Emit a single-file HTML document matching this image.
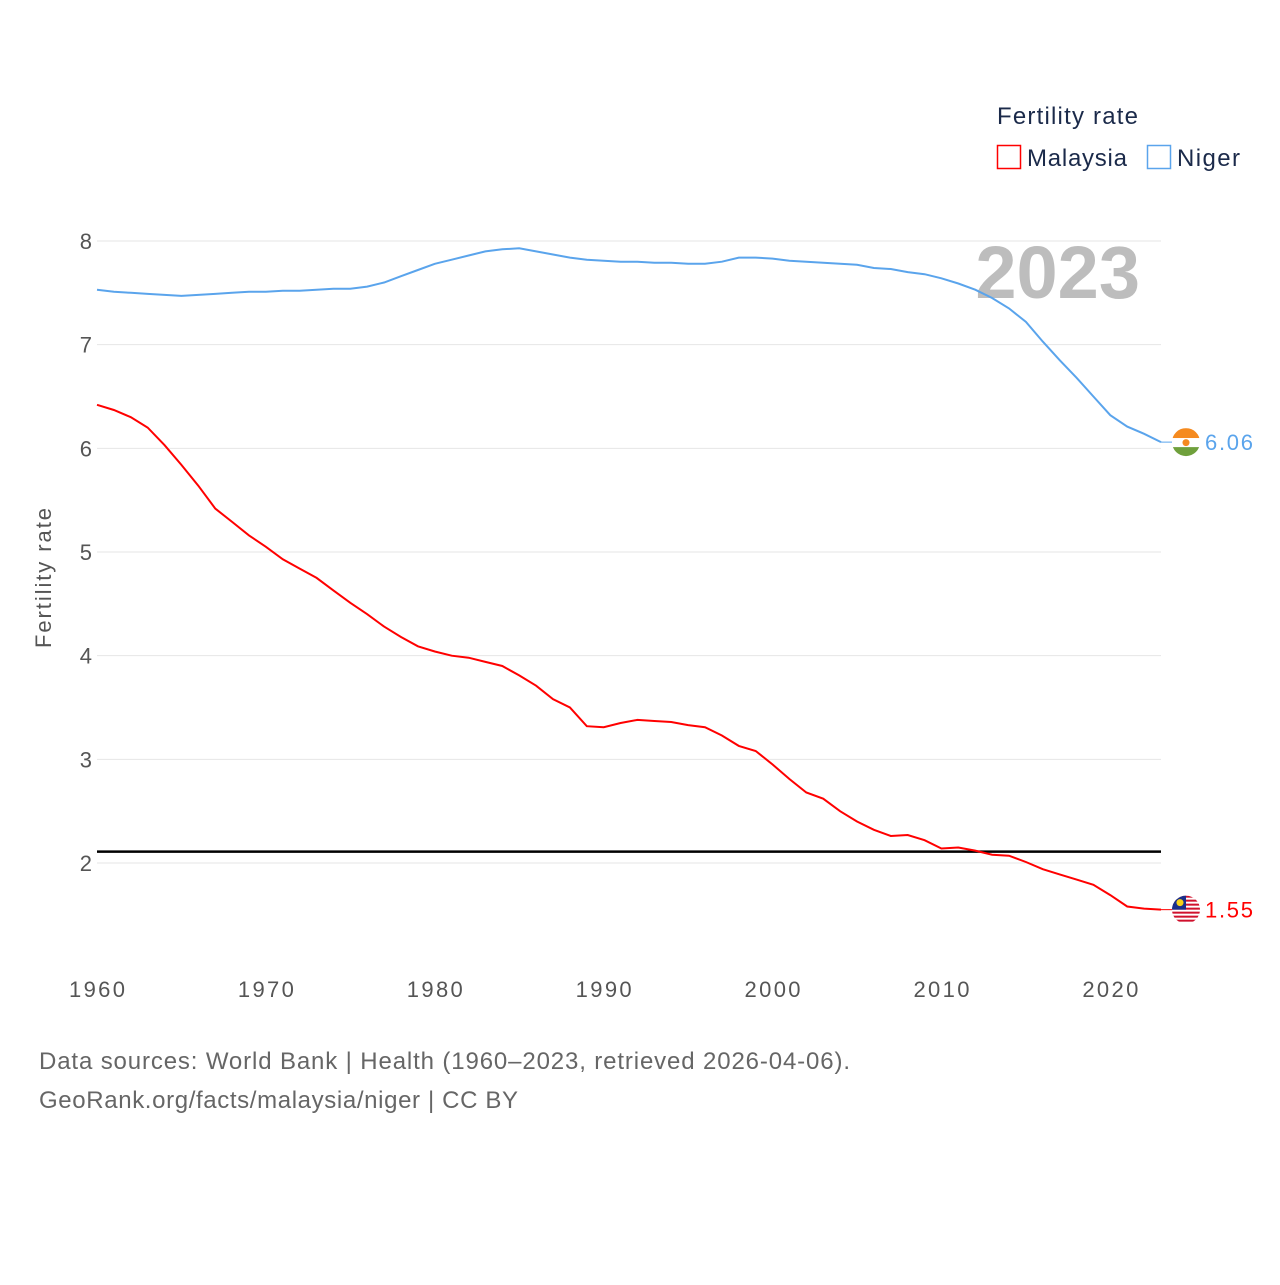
<!DOCTYPE html>
<html><head><meta charset="utf-8"><style>
body{margin:0;background:#fff;font-family:"Liberation Sans",sans-serif}
svg text{font-family:"Liberation Sans",sans-serif}
</style></head><body>
<svg id="chart" width="1280" height="1280">
<defs>
<clipPath id="clipN"><circle id="cN" cx="1186" cy="0" r="14"/></clipPath>
<clipPath id="clipM"><circle id="cM" cx="1186" cy="0" r="14"/></clipPath>
</defs>
<rect width="1280" height="1280" fill="#fff"/>
<g id="grid"></g>
<text x="1140" y="298" text-anchor="end" font-size="74" font-weight="bold" fill="#bdbdbd">2023</text>
<g id="series"></g>
<g id="xaxis"></g>
<g id="yaxis"></g>
<text transform="translate(51,578) rotate(-90)" text-anchor="middle" font-size="22" fill="#555" textLength="140">Fertility rate</text>
<g>
<text x="997" y="124" font-size="24" fill="#1b2a4a" textLength="141">Fertility rate</text>
<g><rect x="997.5" y="145.5" width="23" height="23" fill="none" stroke="#ff0000" stroke-width="1.5"/><text x="1027" y="166" font-size="24" fill="#1b2a4a" textLength="100">Malaysia</text></g>
<g><rect x="1147.5" y="145.5" width="23" height="23" fill="none" stroke="#5aa4ec" stroke-width="1.5"/><text x="1177" y="166" font-size="24" fill="#1b2a4a" textLength="63">Niger</text></g>
</g>
<text x="39" y="1069" font-size="24" fill="#666" textLength="811">Data sources: World Bank | Health (1960–2023, retrieved 2026-04-06).</text>
<text x="39" y="1108" font-size="24" fill="#666" textLength="479">GeoRank.org/facts/malaysia/niger | CC BY</text>
</svg>
<script>
const years=[];for(let y=1960;y<=2023;y++)years.push(y);
const malaysia=[6.42,6.37,6.30,6.20,6.03,5.84,5.64,5.42,5.29,5.16,5.05,4.93,4.84,4.75,4.63,4.51,4.40,4.28,4.18,4.09,4.04,4.00,3.98,3.94,3.90,3.81,3.71,3.58,3.50,3.32,3.31,3.35,3.38,3.37,3.36,3.33,3.31,3.23,3.13,3.08,2.95,2.81,2.68,2.62,2.50,2.40,2.32,2.26,2.27,2.22,2.14,2.15,2.12,2.08,2.07,2.01,1.94,1.89,1.84,1.79,1.69,1.58,1.56,1.55];
const niger=[7.53,7.51,7.50,7.49,7.48,7.47,7.48,7.49,7.50,7.51,7.51,7.52,7.52,7.53,7.54,7.54,7.56,7.60,7.66,7.72,7.78,7.82,7.86,7.90,7.92,7.93,7.90,7.87,7.84,7.82,7.81,7.80,7.80,7.79,7.79,7.78,7.78,7.80,7.84,7.84,7.83,7.81,7.80,7.79,7.78,7.77,7.74,7.73,7.70,7.68,7.64,7.59,7.53,7.45,7.35,7.22,7.03,6.85,6.68,6.50,6.32,6.21,6.14,6.06];
const yTicks=[2,3,4,5,6,7,8];
const xTicks=[1960,1970,1980,1990,2000,2010,2020];
const replacement=2.11;
const NS="http://www.w3.org/2000/svg";
const X=v=>97+(v-1960)*(1161-97)/63;
const Y=v=>863-(v-2)*(863-241)/6;
function mk(tag,attrs,parent){const e=document.createElementNS(NS,tag);for(const k in attrs)e.setAttribute(k,attrs[k]);parent.appendChild(e);return e;}
const grid=document.getElementById('grid'),yax=document.getElementById('yaxis'),xax=document.getElementById('xaxis'),ser=document.getElementById('series');
yTicks.forEach(t=>{
 const l=mk('line',{x1:97,x2:1161,y1:Y(t),y2:Y(t),stroke:'#e6e6e6','stroke-width':1},grid);
 
 
 const tx=mk('text',{x:92,y:Y(t)+8,'text-anchor':'end','font-size':22,fill:'#555'},yax);tx.textContent=t;
 
 
});
xTicks.forEach(t=>{
 const tx=mk('text',{x:X(t),y:997,'text-anchor':'middle','font-size':22,fill:'#555',textLength:56},xax);tx.textContent=t;
 
 
});
const rl=mk('line',{x1:97,x2:1161,y1:Y(replacement),y2:Y(replacement),stroke:'#000','stroke-width':2.5},ser);


function line(vals,color,name){
 const d=vals.map((v,i)=>(i?'L':'M')+X(years[i]).toFixed(1)+','+Y(v).toFixed(1)).join('');
 const p=mk('path',{d:d,fill:'none',stroke:color,'stroke-width':2},ser);
 
 
 const last=vals[vals.length-1],ly=Y(last);
 mk('line',{x1:1161,x2:1172,y1:ly,y2:ly,stroke:color,'stroke-width':1},ser);
 const g=mk('g',{},ser);
 
 
 if(name==='niger'){
  document.getElementById('cN').setAttribute('cy',ly);
  g.setAttribute('clip-path','url(#clipN)');
  mk('rect',{x:1172,y:ly-14,width:28,height:10,fill:'#f58a1f'},g);
  mk('rect',{x:1172,y:ly-4,width:28,height:9,fill:'#fff'},g);
  mk('rect',{x:1172,y:ly+5,width:28,height:10,fill:'#6fa03c'},g);
  mk('circle',{cx:1186,cy:ly+0.5,r:3.5,fill:'#f58a1f'},g);
 }else{
  document.getElementById('cM').setAttribute('cy',ly);
  g.setAttribute('clip-path','url(#clipM)');
  mk('rect',{x:1172,y:ly-14,width:28,height:28,fill:'#fff'},g);
  for(let k=0;k<7;k++)mk('rect',{x:1172,y:ly-14+k*4,width:28,height:2,fill:'#d0102c'},g);
  mk('rect',{x:1172,y:ly-14,width:14,height:14,fill:'#1a2f8a'},g);
  mk('circle',{cx:1180,cy:ly-7,r:3.5,fill:'#f7d117'},g);
 }
 const tx=mk('text',{x:1205,y:ly+8,'font-size':22,fill:color,textLength:48},ser);tx.textContent=last.toFixed(2);
 
 
}
line(niger,'#5aa4ec','niger');
line(malaysia,'#ff0000','malaysia');
</script>
</body></html>
